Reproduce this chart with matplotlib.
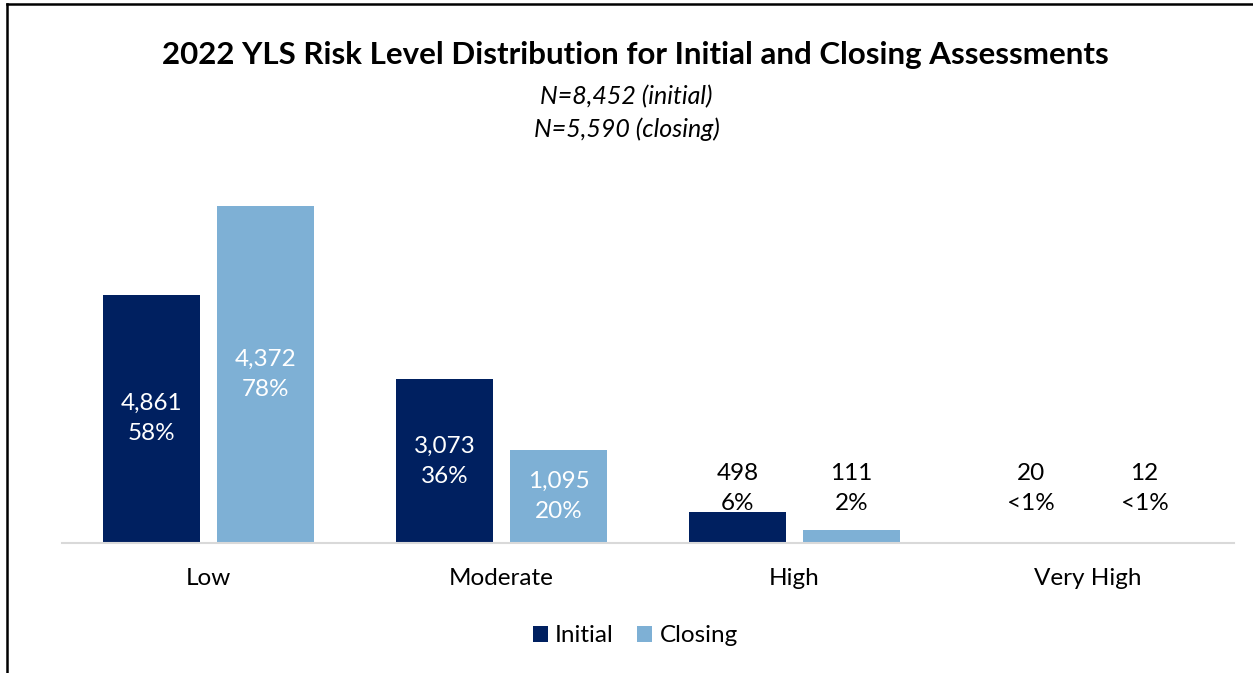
import matplotlib.pyplot as plt
import numpy as np
from matplotlib.lines import Line2D

plt.rcParams['font.family'] = ['Lato', 'DejaVu Sans']

# risk levels
categories = ['Low', 'Moderate', 'High', 'Very High']

# bar heights (share of assessments, %)
initial_pct = [57.5, 37.9, 7.1, 0.24]
closing_pct = [78.2, 21.6, 3.0, 0.21]

# counts and percent labels shown on the bars
initial_counts = [4861, 3073, 498, 20]
closing_counts = [4372, 1095, 111, 12]
initial_labels = ['58%', '36%', '6%', '<1%']
closing_labels = ['78%', '20%', '2%', '<1%']

dark_blue = '#002060'
light_blue = '#7EB0D5'

fig = plt.figure(figsize=(12.53, 6.73), dpi=100)
ax = fig.add_axes([0.0495, 0.1936, 0.9354, 0.5123])

x = np.arange(len(categories))
w = 0.331
off = 0.1945
bars_i = ax.bar(x - off, initial_pct, w, color=dark_blue, label='Initial')
bars_c = ax.bar(x + off, closing_pct, w, color=light_blue, label='Closing')

ax.set_xlim(-0.5, 3.5)
ax.set_ylim(0, 80)

# labels: inside the bar when it is tall enough, otherwise above it
for bars, counts, pcts in [(bars_i, initial_counts, initial_labels),
                           (bars_c, closing_counts, closing_labels)]:
    for b, n, p in zip(bars, counts, pcts):
        h = b.get_height()
        cx = b.get_x() + b.get_width() / 2
        txt = f'{n:,}\n{p}'
        if h > 15:
            ax.text(cx, h / 2, txt, ha='center', va='center', color='white',
                    fontsize=17.5, linespacing=1.55)
        else:
            ax.text(cx, 12.6, txt, ha='center', va='center', color='black',
                    fontsize=17.5, linespacing=1.55)

for s in ['top', 'right', 'left']:
    ax.spines[s].set_visible(False)
ax.spines['bottom'].set_color('#d9d9d9')
ax.spines['bottom'].set_linewidth(1.5)
ax.set_yticks([])
ax.set_xticks(x)
ax.set_xticklabels(categories, fontsize=17.5)
ax.tick_params(axis='x', length=0, pad=18)

fig.text(0.507, 0.918, '2022 YLS Risk Level Distribution for Initial and Closing Assessments',
         ha='center', va='center', fontsize=22.5, fontweight='bold')
fig.text(0.5, 0.857, 'N=8,452 (initial)', ha='center', va='center', fontsize=18, style='italic')
fig.text(0.5, 0.808, 'N=5,590 (closing)', ha='center', va='center', fontsize=18, style='italic')

fig.legend(handles=[bars_i, bars_c], labels=['Initial', 'Closing'], loc='center',
           bbox_to_anchor=(0.507, 0.055), ncol=2, frameon=False, fontsize=17.5,
           handlelength=0.62, handleheight=0.62, handletextpad=0.3, columnspacing=0.95)

# frame lines on the left and top of the picture
fig.add_artist(Line2D([0.0056, 0.0056], [0, 0.994], transform=fig.transFigure,
                      color='black', linewidth=1.8))
fig.add_artist(Line2D([0.0056, 1.0], [0.994, 0.994], transform=fig.transFigure,
                      color='black', linewidth=1.8))

fig.savefig('out.png', dpi=100)
